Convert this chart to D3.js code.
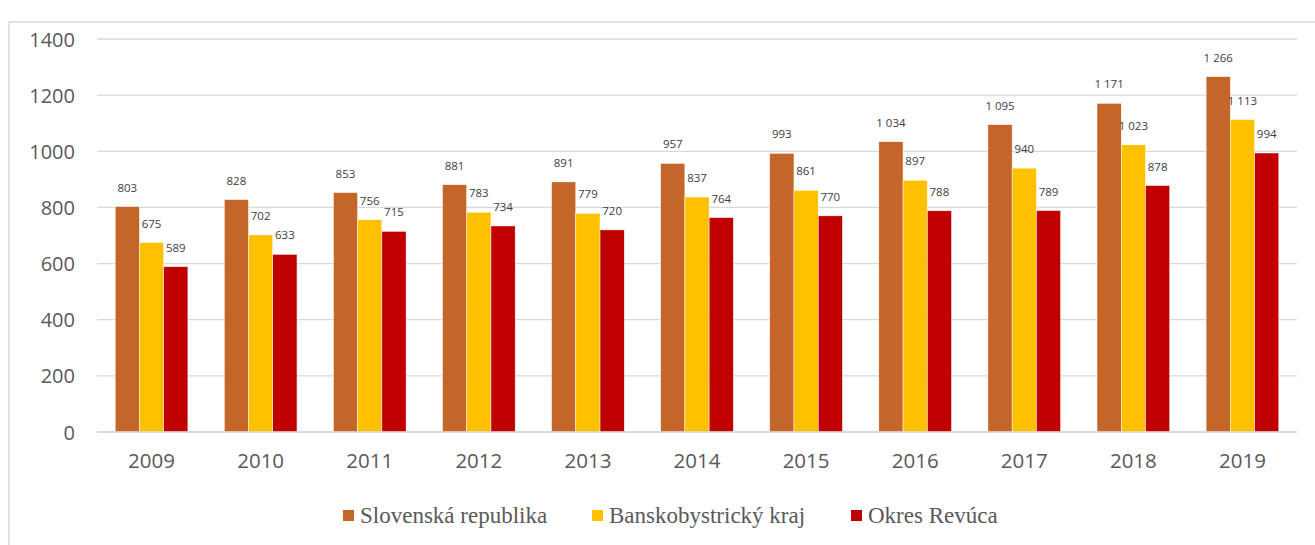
<!DOCTYPE html>
<html><head><meta charset="utf-8">
<script src="https://cdn.jsdelivr.net/npm/d3@7"></script>
<style>body{margin:0;background:#fff;overflow:hidden}</style>
</head><body>
<svg id="c" width="1315" height="545"></svg>
<script>
const years = ["2009","2010","2011","2012","2013","2014","2015","2016","2017","2018","2019"];
const seriesNames = ["Slovenská republika","Banskobystrický kraj","Okres Revúca"];
const slovenska = [803,828,853,881,891,957,993,1034,1095,1171,1266];
const banskobystricky = [675,702,756,783,779,837,861,897,940,1023,1113];
const revuca = [589,633,715,734,720,764,770,788,789,878,994];
const yTicks = [0,200,400,600,800,1000,1200,1400];
const colors = ["#C4652A","#FFC000","#C00000"];

const seriesValues = [slovenska, banskobystricky, revuca];
const svg = d3.select("#c");
// frame
svg.append("rect").attr("x",9).attr("y",22).attr("width",1320).attr("height",540)
  .attr("fill","none").attr("stroke","#D9D9D9").attr("stroke-width",1.5);

const x0 = d3.scaleBand().domain(years).range([97,1297]).paddingInner(0).paddingOuter(0);
const y = d3.scaleLinear().domain([0,1400]).range([432,39]);
const bw = x0.bandwidth()/(3+1.5);
const fmt = v => d3.format(",")(v).replace(/,/g," ");

// gridlines
svg.append("g").selectAll("line").data(yTicks).join("line")
  .attr("x1",97).attr("x2",1297).attr("y1",d=>y(d)).attr("y2",d=>y(d))
  .attr("stroke","#D9D9D9").attr("stroke-width",1.3);

// y axis labels
const ya = d3.axisLeft(y).tickValues(yTicks).tickSize(0).tickPadding(0).tickFormat(d=>d);
const yg = svg.append("g").attr("transform","translate(75,0)").call(ya);
yg.select(".domain").remove();
yg.selectAll("text").attr("font-family","'Open Sans',sans-serif").attr("font-size",20)
  .attr("fill","#595959").attr("dy","0.35em");

// x axis labels
const xa = d3.axisBottom(x0).tickSize(0).tickPadding(0);
const xg = svg.append("g").attr("transform","translate(0,453)").call(xa);
xg.select(".domain").remove();
xg.selectAll("text").attr("font-family","'Open Sans',sans-serif").attr("font-size",20.5)
  .attr("fill","#595959").attr("dy","0.71em");

// bars
seriesValues.forEach((vals,si)=>{
  const g = svg.append("g");
  g.selectAll("rect").data(vals).join("rect")
    .attr("x",(d,i)=>x0(years[i])+bw*0.75+si*bw)
    .attr("y",d=>y(d)).attr("width",bw).attr("height",d=>y(0)-y(d))
    .attr("fill",colors[si]).attr("stroke","#fff").attr("stroke-width",0.5);
  g.selectAll("text").data(vals).join("text")
    .attr("x",(d,i)=>x0(years[i])+bw*0.75+si*bw+bw/2)
    .attr("y",d=>y(d)-15)
    .attr("text-anchor","middle").attr("font-family","'Open Sans',sans-serif")
    .attr("font-size",11.5).attr("fill","#404040").text(d=>fmt(d));
});

// bottom axis line
svg.append("line").attr("x1",97).attr("x2",1297).attr("y1",y(0)).attr("y2",y(0))
  .attr("stroke","#D9D9D9").attr("stroke-width",1.3);

// legend
const legX = [343,592,851];
const lg = svg.append("g");
seriesNames.forEach((n,i)=>{
  lg.append("rect").attr("x",legX[i]).attr("y",510).attr("width",11).attr("height",11).attr("fill",colors[i]);
  lg.append("text").attr("x",legX[i]+17).attr("y",523).attr("font-family","'Liberation Serif',serif")
    .attr("font-size",23).attr("fill","#595959").text(n);
});
</script>
</body></html>
